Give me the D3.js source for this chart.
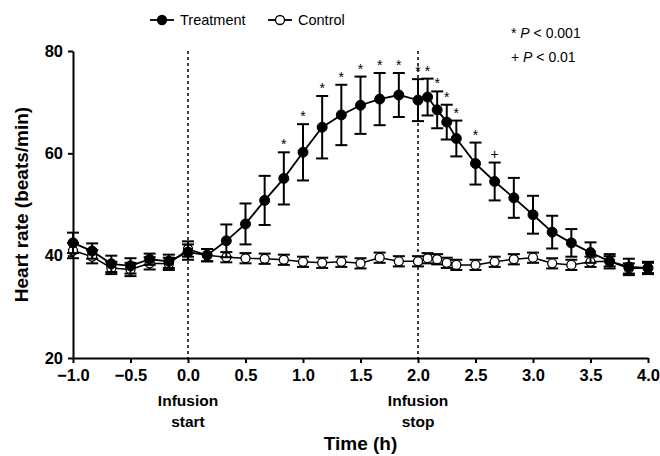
<!DOCTYPE html>
<html>
<head>
<meta charset="utf-8">
<script src="https://cdn.jsdelivr.net/npm/d3@7"></script>
<style>
  html, body { margin: 0; padding: 0; background: #fff; }
  svg { display: block; font-family: "Liberation Sans", Arial, sans-serif; }
  text { -webkit-font-smoothing: antialiased; }
</style>
</head>
<body>
<svg id="chart" width="660" height="456"></svg>
<script>
// Sampling times (minutes relative to infusion start)
const timesMin = [-60, -50, -40, -30, -20, -10, 0, 10, 20, 30, 40, 50, 60, 70, 80, 90, 100, 110, 120,
                  125, 130, 135, 140, 150, 160, 170, 180, 190, 200, 210, 220, 230, 240];

// Treatment group: mean heart rate and error
const treatMean = [42.5, 40.9, 38.4, 38.0, 39.3, 38.9, 40.7, 40.1, 42.9, 46.2, 50.8, 55.1, 60.2, 65.1, 67.5, 69.4, 70.6, 71.4, 70.4,
                   71.0, 68.5, 66.1, 62.9, 58.0, 54.5, 51.3, 48.0, 44.6, 42.5, 40.6, 38.9, 37.8, 37.6];
const treatErr  = [2.0, 1.5, 1.6, 1.5, 1.1, 1.3, 1.5, 1.2, 3.2, 4.0, 4.8, 5.1, 5.5, 6.1, 5.9, 5.6, 5.1, 4.3, 4.1,
                   3.6, 3.6, 3.4, 3.5, 4.1, 3.7, 3.9, 3.7, 3.2, 2.7, 2.0, 1.4, 1.6, 1.2];

// Control group: mean heart rate and error
const ctrlMean = [41.0, 39.8, 37.6, 37.3, 38.5, 38.4, 41.3, 40.1, 39.7, 39.5, 39.4, 39.2, 38.8, 38.6, 38.8, 38.5, 39.6, 38.9, 38.9,
                  39.5, 39.3, 38.6, 38.2, 38.2, 38.8, 39.3, 39.6, 38.5, 38.2, 38.8, 38.9, 37.5, 37.6];
const ctrlErr  = [1.5, 1.3, 1.2, 1.3, 1.2, 1.2, 1.5, 1.2, 1.0, 1.0, 1.0, 1.0, 1.0, 1.0, 1.0, 1.0, 1.0, 1.0, 1.0,
                  1.0, 1.0, 1.0, 1.0, 1.0, 1.0, 1.0, 1.0, 1.0, 1.0, 1.0, 1.0, 1.0, 1.0];

// Significance markers above treatment points ("" = none)
const sigMarks = ["", "", "", "", "", "", "", "", "", "", "", "*", "*", "*", "*", "*", "*", "*", "*",
                  "*", "*", "*", "*", "*", "+", "", "", "", "", "", "", "", ""];

const xTicks = [-1.0, -0.5, 0.0, 0.5, 1.0, 1.5, 2.0, 2.5, 3.0, 3.5, 4.0];
const yTicks = [20, 40, 60, 80];
const seriesNames = ["Treatment", "Control"];
const markerLines = [{ t: 0, label: ["Infusion", "start"] }, { t: 2, label: ["Infusion", "stop"] }];

const treat = timesMin.map((m, i) => ({ t: m / 60, v: treatMean[i], e: treatErr[i], s: sigMarks[i] }));
const ctrl  = timesMin.map((m, i) => ({ t: m / 60, v: ctrlMean[i], e: ctrlErr[i] }));

const svg = d3.select("#chart");
const x = d3.scaleLinear().domain([-1, 4]).range([73, 648]);
const y = d3.scaleLinear().domain([20, 80]).range([358, 51]);

// Infusion start/stop reference lines
svg.append("g").selectAll("line").data(markerLines).join("line")
  .attr("x1", d => x(d.t)).attr("x2", d => x(d.t))
  .attr("y1", y(80)).attr("y2", y(20))
  .attr("stroke", "#000").attr("stroke-width", 1.5).attr("stroke-dasharray", "3,3");

// Axes
const yAxis = svg.append("g").attr("transform", `translate(${x(-1)},0)`)
  .call(d3.axisLeft(y).tickValues(yTicks).tickSize(5).tickSizeOuter(0).tickPadding(5).tickFormat(d3.format("d")));
const xAxis = svg.append("g").attr("transform", `translate(0,${y(20)})`)
  .call(d3.axisBottom(x).tickValues(xTicks).tickSize(5).tickSizeOuter(0).tickPadding(6).tickFormat(d3.format(".1f")));
[yAxis, xAxis].forEach(g => {
  g.select(".domain").attr("stroke-width", 2);
  g.selectAll(".tick line").attr("stroke-width", 2);
  g.selectAll("text").attr("font-family", "'Liberation Sans', Arial, sans-serif")
    .attr("font-size", 16.5).attr("font-weight", "bold").attr("fill", "#000");
});

// Infusion labels under the time axis
markerLines.forEach(m => {
  m.label.forEach((txt, i) => {
    svg.append("text").attr("x", x(m.t)).attr("y", 406 + i * 21)
      .attr("text-anchor", "middle").attr("font-size", 15.5).attr("font-weight", "bold").text(txt);
  });
});

// Axis titles
svg.append("text").attr("x", (x(-1) + x(4)) / 2).attr("y", 450)
  .attr("text-anchor", "middle").attr("font-size", 19).attr("font-weight", "bold").text("Time (h)");
svg.append("text").attr("transform", `translate(28,${(y(20) + y(80)) / 2}) rotate(-90)`)
  .attr("text-anchor", "middle").attr("font-size", 19).attr("font-weight", "bold").text("Heart rate (beats/min)");

const line = d3.line().x(d => x(d.t)).y(d => y(d.v));

function drawSeries(data, filled) {
  const g = svg.append("g");
  g.append("path").datum(data).attr("d", line)
    .attr("fill", "none").attr("stroke", "#000").attr("stroke-width", filled ? 1.8 : 1.5);
  const bars = g.selectAll("g.err").data(data).join("g").attr("class", "err");
  bars.append("line").attr("x1", d => x(d.t)).attr("x2", d => x(d.t))
    .attr("y1", d => y(d.v + d.e)).attr("y2", d => y(d.v - d.e))
    .attr("stroke", "#000").attr("stroke-width", 2);
  [1, -1].forEach(sgn => {
    bars.append("line").attr("x1", d => x(d.t) - 6).attr("x2", d => x(d.t) + 6)
      .attr("y1", d => y(d.v + sgn * d.e)).attr("y2", d => y(d.v + sgn * d.e))
      .attr("stroke", "#000").attr("stroke-width", 2);
  });
  g.selectAll("circle").data(data).join("circle")
    .attr("cx", d => x(d.t)).attr("cy", d => y(d.v)).attr("r", filled ? 5 : 4.5)
    .attr("fill", filled ? "#000" : "#fff").attr("stroke", "#000").attr("stroke-width", filled ? 1 : 1.3);
}

drawSeries(ctrl, false);
drawSeries(treat, true);

// Significance markers
svg.append("g").selectAll("text").data(treat.filter(d => d.s)).join("text")
  .attr("x", d => x(d.t)).attr("y", d => y(d.v + d.e) - (d.s === "+" ? 4 : 3))
  .attr("text-anchor", "middle").attr("font-size", 14).attr("fill", "#000").text(d => d.s);

// Legend
const legend = svg.append("g");
[{ x0: 150, name: seriesNames[0], filled: true }, { x0: 268, name: seriesNames[1], filled: false }].forEach(l => {
  legend.append("line").attr("x1", l.x0).attr("x2", l.x0 + 24).attr("y1", 20).attr("y2", 20)
    .attr("stroke", "#000").attr("stroke-width", 1.8);
  legend.append("circle").attr("cx", l.x0 + 12).attr("cy", 20).attr("r", 4.5)
    .attr("fill", l.filled ? "#000" : "#fff").attr("stroke", "#000").attr("stroke-width", 1.3);
  legend.append("text").attr("x", l.x0 + 30).attr("y", 25).attr("font-size", 14.5).text(l.name);
});

// P-value key
const key = svg.append("g").attr("font-size", 14);
[["*", "0.001", 38], ["+", "0.01", 62]].forEach(([sym, p, yy]) => {
  const t = key.append("text").attr("x", 511).attr("y", yy);
  t.append("tspan").text(sym + " ");
  t.append("tspan").attr("font-style", "italic").text("P");
  t.append("tspan").text(" < " + p);
});
</script>
</body>
</html>
